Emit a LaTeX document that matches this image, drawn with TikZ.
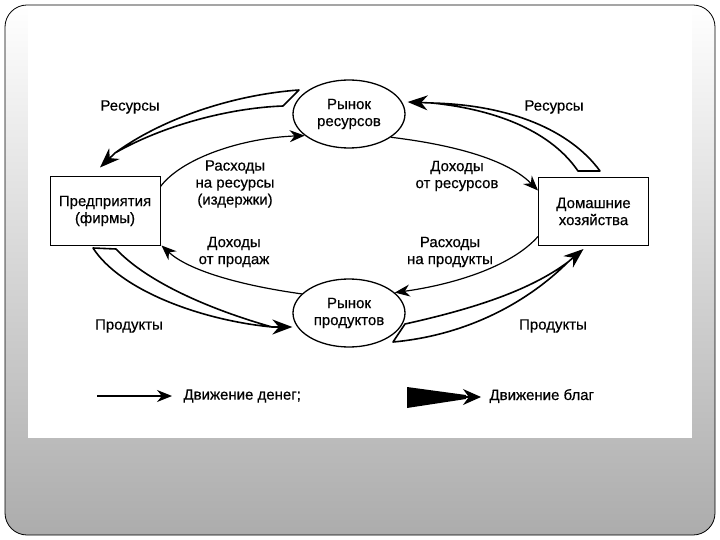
\documentclass[tikz,border=0pt]{standalone}
\usepackage{fontspec}
\setmainfont{Liberation Sans}[FakeBold=0.4]
\usetikzlibrary{arrows.meta,shapes.geometric}

\begin{document}
\begin{tikzpicture}[x=1pt,y=-1pt,
    every node/.style={font=\fontsize{15}{17}\selectfont, align=center},
    market/.style={ellipse, draw, line width=1.3pt, minimum width=112pt, minimum height=68pt, inner sep=0pt},
    agent/.style={rectangle, draw, line width=1pt, minimum width=110pt, minimum height=68pt},
    money/.style={line width=1.2pt, -{Stealth[length=15pt,width=12pt]}},
    good/.style={line width=1.6pt, fill=white, line join=round},
    goodhead/.style={line width=1.6pt, -{Stealth[length=20pt,width=15pt]}}]
        \useasboundingbox (0,0) rectangle (720,540);

        % rámeček snímku
        \shade[top color=white, bottom color=gray!65, rounded corners=22pt] (5,5) rectangle (715,535);
        \draw[line width=0.8pt, rounded corners=22pt] (5,5) rectangle (715,535);
        \fill[white] (28,6) rectangle (692,438);

        % trhy a subjekty
        \node[market] (rmkt) at (349,114) {Рынок\\ресурсов};
        \node[market] (pmkt) at (349,313) {Рынок\\продуктов};
        \node[agent] (firms) at (105,211) {Предприятия\\(фирмы)};
        \node[agent] (hh) at (593.5,211.5) {Домашние\\хозяйства};

        % tok peněz
        \draw[money] ([yshift=-10pt]firms.north east) .. controls (182,158) and (242,138) .. (rmkt.206);
        \draw[money] (rmkt.331) .. controls (455,145) and (508,160) .. ([yshift=21pt]hh.west);
        \draw[money] ([yshift=-25pt]hh.west) .. controls (510,268) and (450,285) .. (pmkt.24);
        \draw[money] (pmkt.158) .. controls (238,285) and (188,270) .. ([xshift=1pt]firms.south east);

        % tok statků
        \draw[good] (299,90) .. controls (230,95) and (160,120) .. (115,153)
            .. controls (162,126) and (228,108) .. (283,106) -- cycle;
        \draw[goodhead] (115,153) -- ([xshift=-5pt,yshift=9pt]firms.north);
        \draw[good] (600,171) .. controls (570,130) and (510,105) .. (432,103)
            .. controls (500,110) and (552,133) .. (578,171) -- cycle;
        \draw[goodhead] (432,103) -- ([xshift=2pt,yshift=12pt]rmkt.east);
        \draw[good] (93,248) .. controls (120,290) and (200,320) .. (272,327)
            .. controls (212,310) and (148,283) .. (116,249) -- cycle;
        \draw[goodhead] (272,327) -- ([yshift=-14pt]pmkt.west);
        \draw[good] (393,342) .. controls (470,335) and (530,300) .. (568,262)
            .. controls (528,292) and (468,310) .. (405,324) -- cycle;
        \draw[goodhead] (568,262) -- ([xshift=-10pt,yshift=-3pt]hh.south);

        % popisky
        \node (lbres1) at (130,107) {Ресурсы};
        \node (lbres2) at (554,107) {Ресурсы};
        \node (lbexp1) at (235,184) {Расходы\\на ресурсы\\(издержки)};
        \node (lbinc1) at (457,176) {Доходы\\от ресурсов};
        \node (lbinc2) at (234,252) {Доходы\\от продаж};
        \node (lbexp2) at (450,252) {Расходы\\на продукты};
        \node (lbprod1) at (129,326) {Продукты};
        \node (lbprod2) at (553,326) {Продукты};

        % legenda
        \coordinate (lm1) at (97,396);
        \coordinate (lm2) at (172,396);
        \draw[money] (lm1) -- (lm2);
        \node[anchor=west] (lbmoney) at (180,396) {Движение денег;};
        \fill (407,387) -- (466,395) -- (466,399) -- (407,408) -- cycle;
        \coordinate (lg1) at (458,397);
        \coordinate (lg2) at (481,397);
        \draw[line width=1.4pt, -{Stealth[length=18pt,width=16pt]}] (lg1) -- (lg2);
        \node[anchor=west] (lbgood) at (486,396) {Движение благ};

    \end{tikzpicture}
\end{document}
